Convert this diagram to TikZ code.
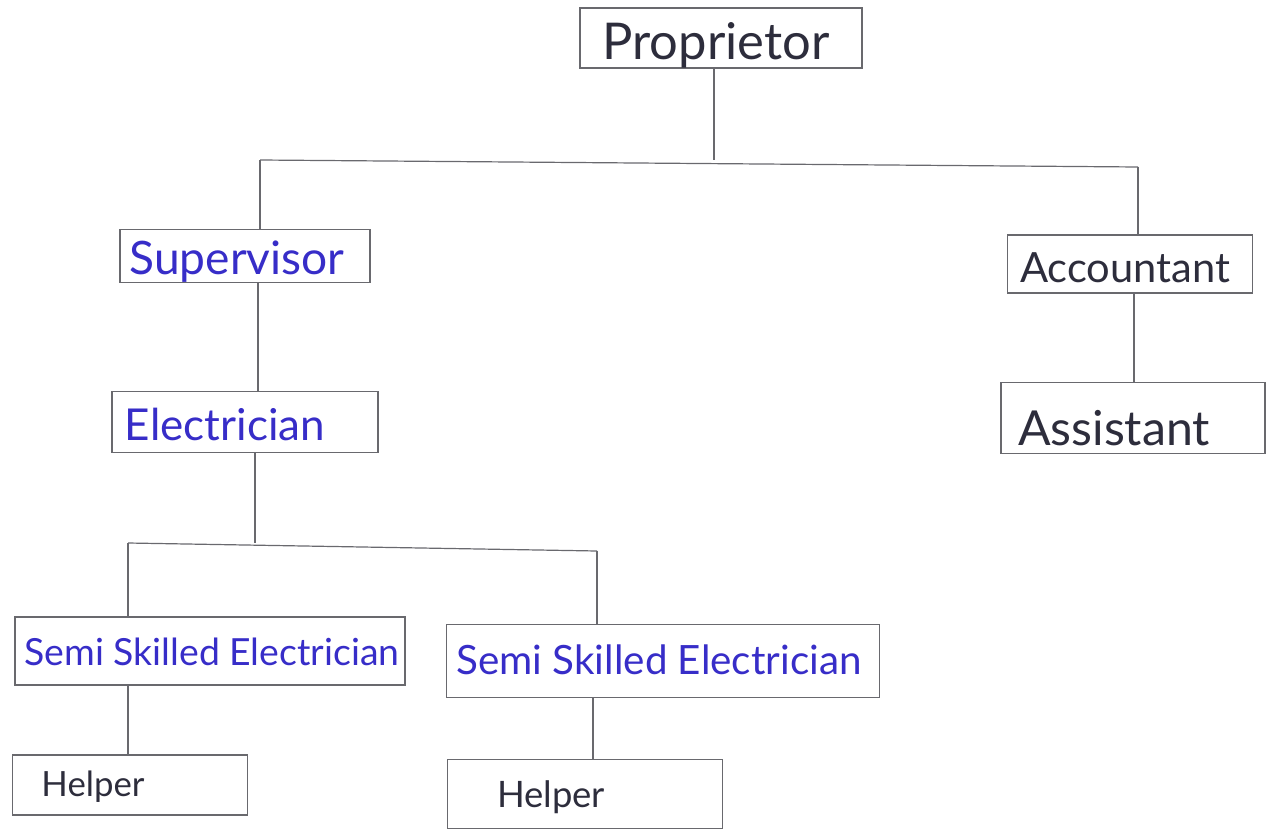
\documentclass[tikz,border=0pt]{standalone}
\usepackage{fontspec}
\setmainfont{Lato}
\usetikzlibrary{calc}
\definecolor{ln}{RGB}{105,105,110}
\definecolor{ink}{RGB}{45,45,60}
\definecolor{bink}{RGB}{55,45,200}
\tikzset{
  box/.style={draw=ln, line width=0.7pt, rectangle, inner sep=0pt},
  lbl/.style={anchor=center, inner sep=0pt},
  wire/.style={draw=ln, line width=0.6pt}
}
\newcommand{\fw}[2]{\resizebox{#1}{!}{#2}}
\begin{document}
\begin{tikzpicture}[x=0.5pt,y=-0.5pt]
\useasboundingbox (0,0) rectangle (1267,829);
% boxes
\node[box, minimum width=141pt, minimum height=30pt] (prop) at (721,38) {};
\node[box, minimum width=125pt, minimum height=26.5pt] (sup) at (245,256) {};
\node[box, minimum width=122.5pt, minimum height=29pt] (acc) at (1130,264) {};
\node[box, minimum width=133pt, minimum height=30.5pt] (ele) at (245,422) {};
\node[box, minimum width=132pt, minimum height=35.5pt] (asst) at (1133,418) {};
\node[box, minimum width=195pt, minimum height=34pt] (sse1) at (210,651) {};
\node[box, minimum width=216.5pt, minimum height=36.5pt] (sse2) at (663,661) {};
\node[box, minimum width=117.5pt, minimum height=30pt] (help1) at (130,785) {};
\node[box, minimum width=137.5pt, minimum height=34.5pt] (help2) at (585,794) {};
% labels
\node[lbl, text=ink] (tprop) at (716,45) {\fw{113.5pt}{Proprietor}};
\node[lbl, text=bink] (tsup) at (237,262) {\fw{107.5pt}{Supervisor}};
\node[lbl, text=bink] (tele) at (225,424) {\fw{100pt}{Electrician}};
\node[lbl, text=ink] (tacc) at (1125,268) {\fw{105pt}{Accountant}};
\node[lbl, text=ink] (tasst) at (1114,428) {\fw{96pt}{Assistant}};
\node[lbl, text=bink] (tsse1) at (212,652) {\fw{187.5pt}{Semi Skilled Electrician}};
\node[lbl, text=bink] (tsse2) at (659,660) {\fw{202.5pt}{Semi Skilled Electrician}};
\node[lbl, text=ink] (thelp1) at (93,787) {\fw{51.5pt}{Helper}};
\node[lbl, text=ink] (thelp2) at (551,797) {\fw{54pt}{Helper}};
% bus coordinates
\coordinate (j1) at (714,160);
\coordinate (bl) at (260,160);
\coordinate (br) at (1138,167);
\coordinate (j2) at (255,543);
\coordinate (cl) at (128,543);
\coordinate (cr) at (597,551);
% connectors
\draw[wire] (j1 |- prop.south) -- (j1);
\draw[wire] (bl) -- (br);
\draw[wire] (bl) -- (bl |- sup.north);
\draw[wire] (br) -- (br |- acc.north);
\draw[wire] (258,283) -- (258,392);
\draw[wire] (1134,293) -- (1134,382);
\draw[wire] (j2 |- ele.south) -- (j2);
\draw[wire] (cl) -- (cr);
\draw[wire] (cl) -- (cl |- sse1.north);
\draw[wire] (cr) -- (cr |- sse2.north);
\draw[wire] (128,685) -- (128,755);
\draw[wire] (593,698) -- (593,760);
\end{tikzpicture}
\end{document}
